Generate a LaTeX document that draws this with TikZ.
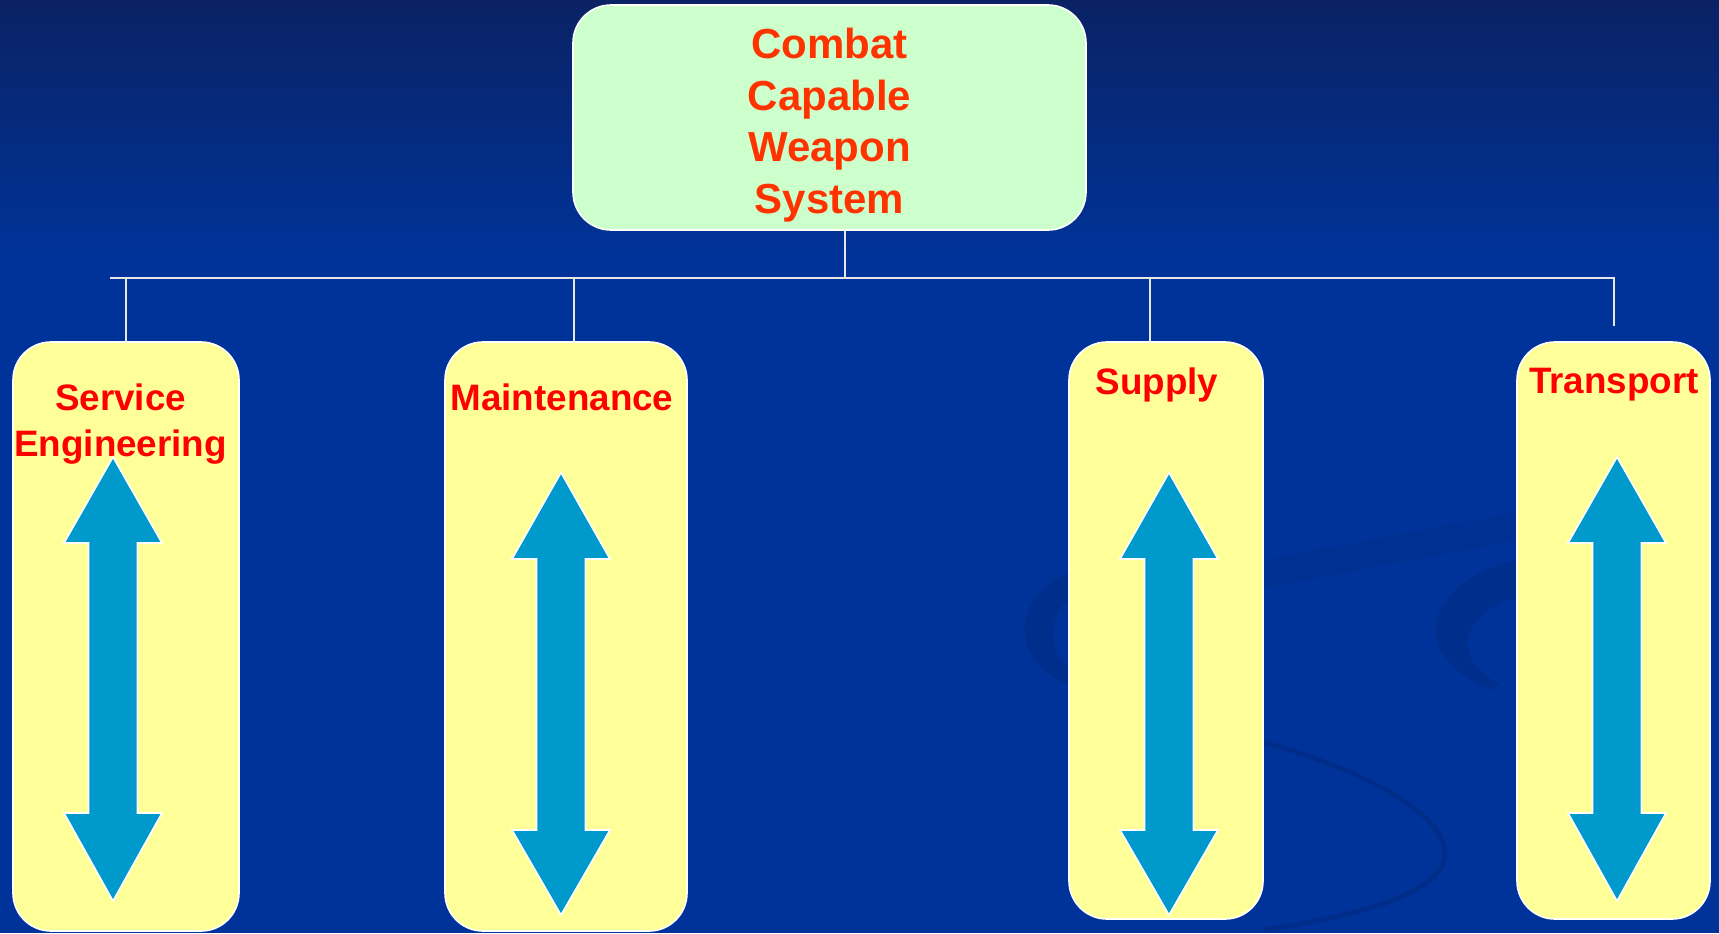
\documentclass[tikz,border=0pt]{standalone}
\usepackage{fontspec}
\setmainfont{Liberation Sans}
\usepackage{xcolor}
\definecolor{navy}{HTML}{0A2264}
\definecolor{slide}{HTML}{003399}
\definecolor{swirlcol}{HTML}{002A80}
\definecolor{mint}{HTML}{CCFFCC}
\definecolor{lemon}{HTML}{FFFF99}
\definecolor{flame}{HTML}{FF3300}
\definecolor{signal}{HTML}{FF0000}
\definecolor{cyanblue}{HTML}{0099CC}
\definecolor{wirecol}{HTML}{E6E6E6}
\usetikzlibrary{positioning,calc}

\begin{document}
\begin{tikzpicture}[x=0.5pt,y=-0.5pt,
  topbox/.style={draw=white,line width=0.8pt,fill=mint,rounded corners=19pt,
    minimum width=256.5pt,minimum height=112.5pt},
  toplabel/.style={align=center,text=flame,inner sep=0pt,
    font=\fontsize{21}{25.75}\selectfont\bfseries},
  unitbox/.style={draw=white,line width=0.8pt,fill=lemon,rounded corners=19pt,inner sep=0pt},
  unitlabel/.style={align=center,text=signal,inner sep=0pt,
    font=\fontsize{18.4}{23}\selectfont\bfseries},
  wire/.style={draw=wirecol,line width=0.8pt},
  updown/.style={fill=cyanblue,draw=white,line width=0.8pt,line join=miter},
  swirl/.style={fill=swirlcol,fill opacity=0.5}]
  % slide background
  \useasboundingbox (0,0) rectangle (1719,933);
  \fill[slide] (0,0) rectangle (1719,933);
  \shade[top color=navy,bottom color=slide] (0,0) rectangle (1719,260);
  \fill[swirl] (1069,573) .. controls (1020,590) and (1000,655) .. (1069,685)
    -- (1069,668) .. controls (1048,655) and (1048,612) .. (1069,600) -- cycle;
  \fill[swirl] (1517,560) .. controls (1430,580) and (1400,650) .. (1490,690)
    -- (1500,684) .. controls (1450,660) and (1460,612) .. (1517,598) -- cycle;
  \fill[swirl,fill opacity=0.25] (1263,560) -- (1517,512) -- (1517,540) -- (1263,588) -- cycle;
  \draw[swirlcol,line width=2.5pt,opacity=0.6] (1263,742) .. controls (1400,780) and (1480,840) .. (1430,880)
    .. controls (1400,905) and (1330,920) .. (1263,930);

  \node[topbox] (weapon) at (829.5,117.5) {};
  \node[toplabel] (weapon-lbl) at (829.5,125) {Combat\\Capable\\Weapon\\System};

  \coordinate (hub) at (845,278);
  \coordinate (busL) at (110,278);
  \coordinate (busR) at (1614,278);
  \coordinate (tend) at (1614,326);
  \draw[wire] (weapon.south -| hub) -- (hub);
  \draw[wire] (busL) -- (busR) -- (tend);

  \foreach \n/\cx/\cy/\w/\h/\dx/\reach/\tx/\ty/\txt in {
    serv/126/636.5/113/294.5/126/1/120.6/424/{Service\\Engineering},
    maint/566/636.5/121/294.5/574/1/562/397/Maintenance,
    supply/1166/630.5/97/288.5/1150/1/1157/385/Supply,
    trans/1613.5/630.5/96.5/288.5/1614/0/1614/385/Transport} {
    \node[unitbox,minimum width=\w pt,minimum height=\h pt] (\n) at (\cx,\cy) {};
    \node[unitlabel] (\n-lbl) at (\tx,\ty) {\txt};
    \ifnum\reach=1
      \coordinate (\n-tap) at (\dx,278);
      \draw[wire] (\n-tap) -- (\n-tap |- \n.north);
    \fi
  }

  % two-headed arrows
  \foreach \n/\ax/\ya/\yb/\yc/\yd in {
    serv/113/457/543/813/901,
    maint/561/472.5/559/830/915,
    supply/1169/472.5/559/830/915,
    trans/1617/457/543/813/901}
    \draw[updown] (\ax,\ya) -- (\ax+49,\yb) -- (\ax+24.5,\yb) -- (\ax+24.5,\yc)
      -- (\ax+49,\yc) -- (\ax,\yd) -- (\ax-49,\yc) -- (\ax-24.5,\yc)
      -- (\ax-24.5,\yb) -- (\ax-49,\yb) -- cycle;
\end{tikzpicture}
\end{document}
